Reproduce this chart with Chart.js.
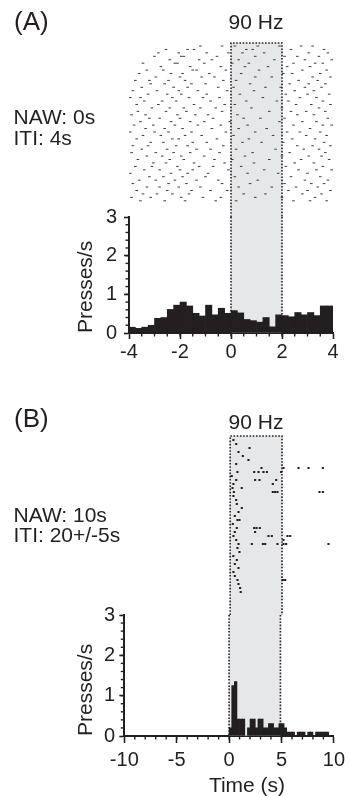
<!DOCTYPE html>
<html>
<head>
<meta charset="utf-8">
<script src="https://cdn.jsdelivr.net/npm/chart.js@4.4.0/dist/chart.umd.min.js"></script>
<style>
  html, body { margin: 0; padding: 0; background: #fff; }
  #page { position: relative; width: 350px; height: 796px; overflow: hidden;
          font-family: "Liberation Sans", Arial, sans-serif; color: #231f20; }
  canvas { position: absolute; left: 0; }
  .note { position: absolute; white-space: nowrap; font-size: 21px; line-height: 21px; }
  .big { font-size: 26px; line-height: 26px; }
  .mid { transform: translateX(-50%); }
</style>
</head>
<body>
<div id="page">
  <canvas id="histA" width="350" height="390" style="top:0"></canvas>
  <canvas id="rasterA" width="350" height="390" style="top:0"></canvas>
  <canvas id="histB" width="350" height="406" style="top:390px"></canvas>
  <canvas id="rasterB" width="350" height="406" style="top:390px"></canvas>

  <div class="note big" style="left:14px;top:8px">(A)</div>
  <div class="note mid" style="left:256px;top:11px">90 Hz</div>
  <div class="note" style="left:13.5px;top:106px">NAW: 0s</div>
  <div class="note" style="left:13.5px;top:127px">ITI: 4s</div>

  <div class="note big" style="left:14px;top:405px">(B)</div>
  <div class="note mid" style="left:256px;top:411px">90 Hz</div>
  <div class="note" style="left:13.5px;top:504px">NAW: 10s</div>
  <div class="note" style="left:13.5px;top:524px">ITI: 20+/-5s</div>
  <div class="note mid" style="left:247px;top:774px">Time (s)</div>
</div>
<script>
const ink = '#231f20';
const shadeFill = '#e6e7e8';
const fontFamily = 'Liberation Sans';

const binWidth = 0.25;

// ---- panel A: NAW 0s, ITI 4s ----
const binStartA = -4;
const ratesA = [
  0.15, 0.12, 0.15, 0.2, 0.38, 0.4, 0.61, 0.72, 0.8, 0.7, 0.51, 0.44, 0.72, 0.47, 0.64, 0.51,
  0.58, 0.52, 0.35, 0.32, 0.28, 0.4, 0.16, 0.47, 0.45, 0.42, 0.53, 0.47, 0.53, 0.45, 0.7, 0.7
];
const xLabelsA = [-4, -2, 0, 2, 4];
const yLabels = [0, 1, 2, 3];
const stimA = [0, 2];
// press times (s) per trial, top trial first
const rasterA = [
  [-1.2, -0.35, 0.15, 1.05, 1.9, 2.75, 3.2],
  [-2.55, -1.7, -1.45, 0.6, 0.85, 2.35, 3.65],
  [-2.85, -2.05, -0.95, -0.1, 0.45, 1.3, 3.05, 3.8],
  [-3.0, -1.95, -1.85, -0.55, 0.95, 2.1, 2.6, 3.45],
  [-2.4, -1.25, -0.75, 0.3, 1.7, 2.9, 3.95],
  [-3.45, -2.2, -2.1, -1.05, 0.05, 0.7, 2.45, 3.3, 3.6],
  [-2.75, -1.6, -0.4, 0.55, 1.45, 2.2, 3.1],
  [-3.3, -2.65, -1.5, -1.35, -0.2, 1.1, 2.8, 3.75],
  [-3.6, -2.35, -1.9, -0.85, 0.4, 2.05, 2.4, 3.5],
  [-2.95, -2.0, -1.15, -0.65, 0.95, 1.6, 3.2, 3.9],
  [-3.75, -3.2, -2.45, -1.8, -0.3, 0.2, 2.65, 3.4],
  [-3.15, -2.6, -1.55, -1.0, 0.75, 2.3, 3.05, 3.7],
  [-3.5, -2.25, -1.7, -0.5, 0.1, 1.35, 1.95, 2.9, 3.55],
  [-3.85, -2.9, -2.05, -1.3, -0.15, 0.9, 2.5, 3.25],
  [-3.25, -2.5, -1.95, -0.95, 0.35, 2.15, 3.0, 3.85],
  [-3.95, -3.55, -2.3, -1.65, -1.1, -0.45, 1.25, 2.7, 3.35],
  [-3.4, -2.7, -2.15, -0.8, 0.6, 1.8, 2.25, 3.6],
  [-3.7, -2.85, -1.45, -0.25, 0.15, 2.55, 3.15, 3.9],
  [-3.1, -2.4, -1.85, -1.2, -0.6, 0.8, 2.0, 3.45],
  [-3.65, -2.55, -1.75, -0.35, 1.5, 2.35, 2.95, 3.7],
  [-3.9, -3.35, -2.1, -1.4, -0.9, 0.25, 2.6, 3.25],
  [-3.2, -2.8, -2.0, -0.7, 0.5, 1.15, 2.1, 3.8],
  [-3.55, -2.35, -1.6, -1.05, -0.05, 1.9, 2.8, 3.35],
  [-3.8, -3.05, -2.2, -1.3, -0.4, 0.65, 2.45, 3.6, 3.95],
  [-3.35, -2.6, -1.9, -0.75, 0.3, 1.4, 3.1],
  [-3.95, -3.0, -2.45, -1.55, -0.2, 0.95, 2.2, 2.7, 3.5],
  [-3.45, -2.75, -1.8, -1.15, 0.1, 1.65, 2.95, 3.75],
  [-3.7, -2.3, -2.05, -0.55, 0.7, 2.4, 3.3],
  [-3.15, -2.65, -1.5, -0.95, 0.45, 1.2, 2.05, 3.65],
  [-3.85, -3.25, -2.15, -1.7, -0.3, 2.6, 3.2, 3.9],
  [-3.5, -2.5, -1.35, -0.8, 0.2, 1.75, 2.85, 3.45],
  [-3.9, -2.95, -2.25, -1.6, -0.45, 0.85, 2.3, 3.7],
  [-3.3, -2.7, -1.95, -1.05, 0.55, 2.0, 3.05, 3.55],
  [-3.65, -2.4, -1.85, -0.65, 0.05, 1.5, 2.75, 3.85],
  [-3.05, -2.55, -1.45, -0.25, 0.9, 2.5, 3.25],
  [-3.75, -3.1, -2.1, -1.25, -0.7, 0.4, 2.15, 3.6],
  [-3.4, -2.8, -2.0, -1.5, -0.1, 1.3, 2.65, 3.35, 3.95],
  [-3.95, -2.35, -1.7, -0.9, 0.65, 1.85, 3.0],
  [-3.2, -2.65, -1.9, -1.0, 0.15, 2.35, 3.5],
  [-3.6, -2.95, -2.2, -1.35, -0.5, 1.05, 2.9, 3.8],
  [-3.85, -2.45, -1.75, -0.35, 0.75, 2.1, 3.15, 3.65],
  [-3.3, -2.8, -2.05, -1.2, 0.3, 1.6, 2.55, 3.4],
  [-3.7, -2.5, -1.55, -0.8, -0.15, 2.25, 3.0, 3.9],
  [-3.45, -2.9, -2.3, -1.65, 0.5, 1.35, 2.8, 3.55],
  [-3.9, -3.15, -1.95, -1.1, -0.4, 0.95, 2.0, 3.3],
  [-3.55, -2.6, -1.8, -0.6, 0.2, 2.45, 3.1, 3.75]
];

// ---- panel B: NAW 10s, ITI 20+/-5s ----
const binStartB = -10;
const ratesB = [
  0, 0, 0, 0, 0, 0, 0, 0, 0, 0, 0, 0, 0, 0, 0, 0, 0, 0, 0, 0,
  0, 0, 0, 0, 0, 0, 0, 0, 0, 0, 0, 0, 0, 0, 0, 0, 0, 0, 0, 0,
  0.2, 1.25, 1.35, 0.42, 0.42, 0.42, 0, 0.2, 0.42, 0.42, 0.2, 0.42, 0.42, 0.2, 0.2, 0.31, 0.31, 0.2, 0.2, 0.31,
  0.31, 0.2, 0.1, 0.1, 0.1, 0, 0.1, 0.1, 0.1, 0, 0.1, 0.1, 0, 0.1, 0.1, 0.1, 0.1, 0.1, 0, 0
];
const xLabelsB = [-10, -5, 0, 5, 10];
const stimB = [0, 4.9];
const rasterB = [
  [0.31], [0.57], [1.83], [0.79], [1.2], [1.73], [0.57],
  [2.96, 5.04, 6.46, 7.4, 8.76],
  [0.69, 2.27, 2.68, 3.15, 3.47, 4.82],
  [0.15],
  [0.57, 2.36, 2.77, 4.35],
  [0.31, 4.03],
  [0.22, 1.1],
  [0.35, 4.03, 4.25, 4.47, 8.44, 8.76],
  [0.31], [0.57], [0.63], [1.1], [0.79], [0.44],
  [0.69, 0.88],
  [0.25],
  [0.63, 2.27, 2.49, 2.8],
  [0.44, 2.36],
  [0.31, 3.62, 3.94, 5.42, 5.67],
  [0.57, 5.04],
  [0.79, 2.05, 3.09, 3.31, 4.47, 5.04, 5.29, 9.29],
  [0.69], [0.88], [0.3], [0.63], [0.44], [0.79], [0.31], [0.44],
  [0.69, 4.98, 5.2],
  [0.79], [0.94], [1.0]
];

function histogram(binStart, rates) {
  return rates.map((r, i) => ({ x: binStart + (i + 0.5) * binWidth, y: r }));
}

function rasterPoints(rows) {
  const pts = [];
  rows.forEach((times, row) => times.forEach(t => pts.push({ x: t, y: row })));
  return pts;
}

// stimulation window: grey band with a dotted outline, behind the data
const stimShade = {
  id: 'stimShade',
  beforeDatasetsDraw(chart, args, o) {
    const { ctx, chartArea, scales } = chart;
    const x0 = scales.x.getPixelForValue(o.from);
    const x1 = scales.x.getPixelForValue(o.to);
    const top = chartArea.top, bottom = chartArea.bottom;
    ctx.save();
    ctx.fillStyle = shadeFill;
    ctx.fillRect(x0, top, x1 - x0, bottom - top);
    ctx.strokeStyle = ink;
    ctx.lineWidth = 1.6;
    ctx.setLineDash([1.6, 1.6]);
    ctx.beginPath();
    if (o.edgeTop) {
      ctx.moveTo(x0, bottom);
      ctx.lineTo(x0, top);
      ctx.lineTo(x1, top);
      ctx.lineTo(x1, bottom);
    } else {
      ctx.moveTo(x0, top);
      ctx.lineTo(x0, bottom);
      ctx.moveTo(x1, top);
      ctx.lineTo(x1, bottom);
    }
    ctx.stroke();
    ctx.restore();
  }
};

const minorTicks = {
  id: 'minorTicks',
  afterDraw(chart, args, o) {
    const { ctx, scales } = chart;
    ctx.save();
    ctx.strokeStyle = ink;
    ctx.lineWidth = 1.4;
    const x = scales.x, y = scales.y;
    let n = Math.round((x.max - x.min) / o.xStep);
    for (let i = 1; i < n; i++) {
      const px = x.getPixelForValue(x.min + i * o.xStep);
      ctx.beginPath();
      ctx.moveTo(px, x.top);
      ctx.lineTo(px, x.top + o.xLen);
      ctx.stroke();
    }
    n = Math.round((y.max - y.min) / o.yStep);
    for (let i = 1; i < n; i++) {
      const py = y.getPixelForValue(y.min + i * o.yStep);
      ctx.beginPath();
      ctx.moveTo(y.right - o.yLen, py);
      ctx.lineTo(y.right, py);
      ctx.stroke();
    }
    ctx.restore();
  }
};

const quiet = { legend: { display: false }, tooltip: { enabled: false } };

function makeHistogram(id, p) {
  return new Chart(document.getElementById(id), {
    type: 'bar',
    data: {
      datasets: [{
        data: histogram(p.binStart, p.rates),
        backgroundColor: ink, borderWidth: 0, barPercentage: 1, categoryPercentage: 1
      }]
    },
    options: {
      responsive: false,
      animation: false,
      events: [],
      layout: { padding: p.padding },
      plugins: {
        ...quiet,
        stimShade: { from: p.stim[0], to: p.stim[1], edgeTop: false },
        minorTicks: { xStep: p.xMinor, xLen: 3.5, yStep: 0.2, yLen: 3.5 }
      },
      scales: {
        x: {
          type: 'linear', offset: false, min: p.xLabels[0], max: p.xLabels[p.xLabels.length - 1],
          afterBuildTicks: s => { s.ticks = p.xLabels.map(v => ({ value: v })); },
          afterFit: s => { s.height = p.xHeight; },
          ticks: { color: ink, font: { family: fontFamily, size: 20 }, padding: p.xPad, maxRotation: 0, autoSkip: false },
          grid: { offset: false, drawOnChartArea: false, tickLength: p.xTick, tickWidth: 1.6, tickColor: ink },
          border: { color: ink, width: 2 }
        },
        y: {
          type: 'linear', min: 0, max: 3,
          afterBuildTicks: s => { s.ticks = yLabels.map(v => ({ value: v })); },
          afterFit: s => { s.width = p.yWidth; },
          ticks: { color: ink, font: { family: fontFamily, size: 20 }, padding: p.yPad },
          grid: { drawOnChartArea: false, tickLength: 5, tickWidth: 1.6, tickColor: ink },
          border: { color: ink, width: 2 },
          title: {
            display: true, text: 'Presses/s', align: 'start', color: ink, padding: 0,
            font: { family: fontFamily, size: 21 }
          }
        }
      }
    },
    plugins: [stimShade, minorTicks]
  });
}

// raster sits on its own canvas over the histogram, sharing the same horizontal extent
function makeRaster(id, p) {
  const h = p.areaBottom - p.areaTop;
  const rowMin = -(p.firstRowPx - p.areaTop) / p.rowGap;
  return new Chart(document.getElementById(id), {
    type: 'scatter',
    data: {
      datasets: [{
        data: rasterPoints(p.raster),
        pointStyle: p.dotStyle, pointRadius: p.dotRadius,
        pointBackgroundColor: p.dotColor, pointBorderColor: p.dotColor,
        pointBorderWidth: p.dotStyle === 'line' ? 1 : 0
      }]
    },
    options: {
      responsive: false,
      animation: false,
      events: [],
      layout: { padding: { left: p.left, right: p.right, top: p.areaTop, bottom: p.height - p.areaBottom } },
      plugins: { ...quiet, stimShade: { from: p.stim[0], to: p.stim[1], edgeTop: true } },
      scales: {
        x: { type: 'linear', display: false, min: p.xLabels[0], max: p.xLabels[p.xLabels.length - 1] },
        y: { type: 'linear', display: false, reverse: true, min: rowMin, max: rowMin + h / p.rowGap }
      }
    },
    plugins: [stimShade]
  });
}

makeHistogram('histA', {
  binStart: binStartA, rates: ratesA, stim: stimA, xLabels: xLabelsA, xMinor: 0.5,
  padding: { top: 217, left: 74, right: 17, bottom: 17 },
  xHeight: 40, yWidth: 55, xTick: 6, xPad: 1, yPad: 7
});
makeRaster('rasterA', {
  raster: rasterA, stim: stimA, xLabels: xLabelsA,
  height: 390, left: 129, right: 17, areaTop: 43, areaBottom: 217,
  firstRowPx: 46, rowGap: 3.44, dotStyle: 'line', dotRadius: 1.3, dotColor: '#3c3c3c'
});

makeHistogram('histB', {
  binStart: binStartB, rates: ratesB, stim: stimB, xLabels: xLabelsB, xMinor: 1,
  padding: { top: 225, left: 74, right: 14, bottom: 20 },
  xHeight: 40, yWidth: 50.3, xTick: 7, xPad: 5, yPad: 4.3
});
makeRaster('rasterB', {
  raster: rasterB, stim: stimB, xLabels: xLabelsB,
  height: 406, left: 124.3, right: 14, areaTop: 46, areaBottom: 225,
  firstRowPx: 50, rowGap: 4, dotStyle: 'rect', dotRadius: 1.5, dotColor: ink
});
</script>
</body>
</html>
